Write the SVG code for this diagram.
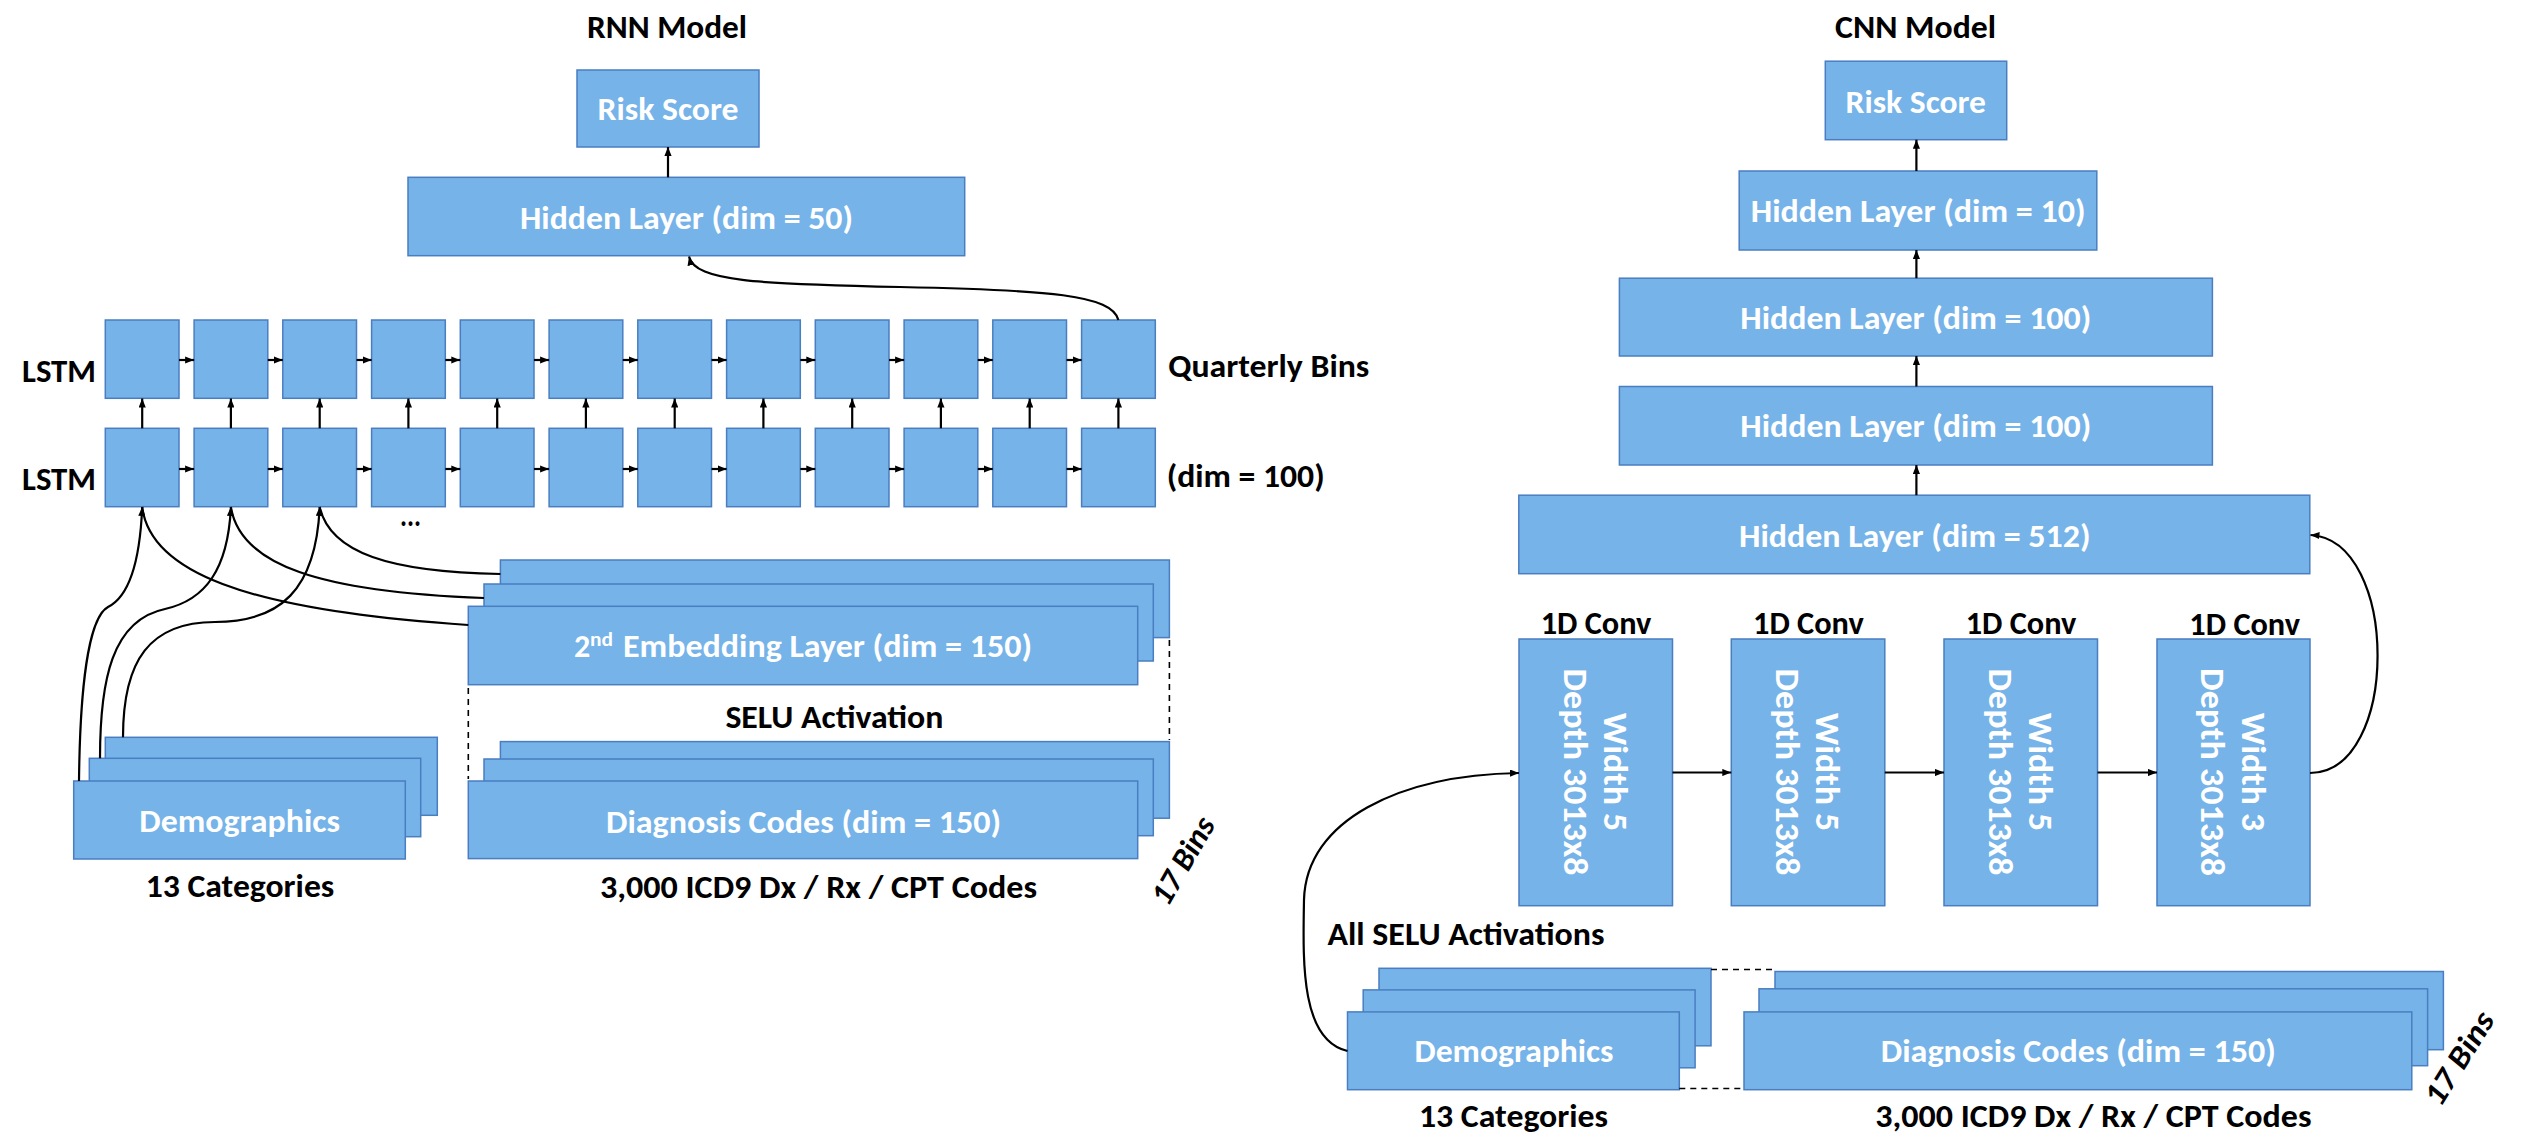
<svg xmlns="http://www.w3.org/2000/svg" xmlns:xlink="http://www.w3.org/1999/xlink" width="2539" height="1135" viewBox="0 0 2539 1135">
  <style>
    .box { fill: #75B3E9; stroke: #4A7EC1; stroke-width: 1.5; }
    .t { font-family: Carlito, Lato, "Open Sans", sans-serif; font-weight: bold; font-size: 32px; fill: #000; }
    .w { fill: #fff; }
    .rot { font-size: 34px; }
    .ln { fill: none; stroke: #000; stroke-width: 2.2; }
    .ar { fill: none; stroke: #000; stroke-width: 2.2; marker-end: url(#ah); }
    .dash { fill: none; stroke: #000; stroke-width: 1.6; stroke-dasharray: 6 5; }
  </style>
  <defs>
    <marker id="ah" viewBox="0 0 10 8" refX="10" refY="4" markerWidth="9" markerHeight="7.2" markerUnits="userSpaceOnUse" orient="auto">
      <path d="M0,0 L10,4 L0,8 z" fill="#000"/>
    </marker>
    <rect id="cellTop" class="box" width="73.7" height="78.3"/>
    <rect id="cellBot" class="box" width="73.7" height="78.4"/>
  </defs>
  <rect width="2539" height="1135" fill="#fff"/>

  <!-- ================= RNN model ================= -->
  <text class="t" x="667" y="37.5" text-anchor="middle" textLength="160" lengthAdjust="spacingAndGlyphs">RNN Model</text>

  <g id="rnn-risk">
    <rect class="box" x="577" y="70" width="182" height="77"/>
    <text class="t w" x="668" y="119.6" text-anchor="middle" textLength="141" lengthAdjust="spacingAndGlyphs">Risk Score</text>
  </g>
  <g id="rnn-hidden50">
    <rect class="box" x="408" y="177.3" width="556.7" height="78.4"/>
    <text class="t w" x="686.5" y="228.6" text-anchor="middle" textLength="333" lengthAdjust="spacingAndGlyphs">Hidden Layer (dim = 50)</text>
  </g>

  <!-- upper LSTM layer -->
  <g id="lstm-top">
    <use xlink:href="#cellTop" x="105.3" y="320"/>
    <use xlink:href="#cellTop" x="194.1" y="320"/>
    <use xlink:href="#cellTop" x="282.8" y="320"/>
    <use xlink:href="#cellTop" x="371.6" y="320"/>
    <use xlink:href="#cellTop" x="460.3" y="320"/>
    <use xlink:href="#cellTop" x="549.1" y="320"/>
    <use xlink:href="#cellTop" x="637.8" y="320"/>
    <use xlink:href="#cellTop" x="726.6" y="320"/>
    <use xlink:href="#cellTop" x="815.3" y="320"/>
    <use xlink:href="#cellTop" x="904.1" y="320"/>
    <use xlink:href="#cellTop" x="992.8" y="320"/>
    <use xlink:href="#cellTop" x="1081.6" y="320"/>
  </g>
  <!-- lower LSTM layer -->
  <g id="lstm-bottom">
    <use xlink:href="#cellBot" x="105.3" y="428.3"/>
    <use xlink:href="#cellBot" x="194.1" y="428.3"/>
    <use xlink:href="#cellBot" x="282.8" y="428.3"/>
    <use xlink:href="#cellBot" x="371.6" y="428.3"/>
    <use xlink:href="#cellBot" x="460.3" y="428.3"/>
    <use xlink:href="#cellBot" x="549.1" y="428.3"/>
    <use xlink:href="#cellBot" x="637.8" y="428.3"/>
    <use xlink:href="#cellBot" x="726.6" y="428.3"/>
    <use xlink:href="#cellBot" x="815.3" y="428.3"/>
    <use xlink:href="#cellBot" x="904.1" y="428.3"/>
    <use xlink:href="#cellBot" x="992.8" y="428.3"/>
    <use xlink:href="#cellBot" x="1081.6" y="428.3"/>
  </g>

  <g id="rnn-labels">
    <text class="t" x="22" y="382" textLength="74" lengthAdjust="spacingAndGlyphs">LSTM</text>
    <text class="t" x="22" y="490" textLength="74" lengthAdjust="spacingAndGlyphs">LSTM</text>
    <text class="t" x="1168.3" y="376.7" textLength="201" lengthAdjust="spacingAndGlyphs">Quarterly Bins</text>
    <text class="t" x="1166.7" y="486.7" textLength="158" lengthAdjust="spacingAndGlyphs">(dim = 100)</text>
    <text class="t" x="400" y="526" font-weight="900" textLength="21" lengthAdjust="spacingAndGlyphs">...</text>
  </g>

  <!-- second embedding layer, stacked over the 17 bins -->
  <g id="rnn-embedding">
    <rect class="box" x="500.4" y="560" width="669" height="77.6"/>
    <rect class="box" x="484" y="584" width="669.3" height="77"/>
    <rect class="box" x="468.3" y="606.3" width="669.4" height="78.4"/>
    <text class="t w" x="574" y="657.3">2<tspan x="590" y="646" font-size="20" textLength="23" lengthAdjust="spacingAndGlyphs">nd</tspan><tspan x="623" y="657.3" textLength="409" lengthAdjust="spacingAndGlyphs">Embedding Layer (dim = 150)</tspan></text>
  </g>
  <text class="t" x="725.4" y="727.8" textLength="218" lengthAdjust="spacingAndGlyphs">SELU Activation</text>

  <g id="rnn-diagnosis">
    <rect class="box" x="500.4" y="741.6" width="669" height="76.6"/>
    <rect class="box" x="484" y="759" width="669.3" height="76.7"/>
    <rect class="box" x="468.3" y="781" width="669.4" height="77.6"/>
    <text class="t w" x="606" y="832.5" textLength="395" lengthAdjust="spacingAndGlyphs">Diagnosis Codes (dim = 150)</text>
  </g>
  <text class="t" x="600" y="898.4" textLength="437" lengthAdjust="spacingAndGlyphs">3,000 ICD9 Dx / Rx / CPT Codes</text>

  <g id="rnn-demographics">
    <rect class="box" x="105.3" y="737.3" width="332" height="78"/>
    <rect class="box" x="89.3" y="758.3" width="331.4" height="78.4"/>
    <rect class="box" x="73.7" y="781" width="331.6" height="78"/>
    <text class="t w" x="139.3" y="831.7" textLength="200.7" lengthAdjust="spacingAndGlyphs">Demographics</text>
  </g>
  <text class="t" x="145.7" y="897.3" textLength="188.6" lengthAdjust="spacingAndGlyphs">13 Categories</text>

  <text class="t" transform="translate(1192,866) rotate(-60)" text-anchor="middle" font-style="italic" font-size="33" textLength="96" lengthAdjust="spacingAndGlyphs">17 Bins</text>

  <!-- RNN connectors -->
  <g id="rnn-connectors">
    <path class="ar" d="M668,177.3 L668,147"/>
    <!-- recurrent links, upper layer -->
    <path class="ar" d="M179,360 L194.1,360"/>
    <path class="ar" d="M267.8,360 L282.8,360"/>
    <path class="ar" d="M356.5,360 L371.6,360"/>
    <path class="ar" d="M445.3,360 L460.3,360"/>
    <path class="ar" d="M534,360 L549.1,360"/>
    <path class="ar" d="M622.8,360 L637.8,360"/>
    <path class="ar" d="M711.5,360 L726.6,360"/>
    <path class="ar" d="M800.3,360 L815.3,360"/>
    <path class="ar" d="M889,360 L904.1,360"/>
    <path class="ar" d="M977.8,360 L992.8,360"/>
    <path class="ar" d="M1066.5,360 L1081.6,360"/>
    <!-- recurrent links, lower layer -->
    <path class="ar" d="M179,469 L194.1,469"/>
    <path class="ar" d="M267.8,469 L282.8,469"/>
    <path class="ar" d="M356.5,469 L371.6,469"/>
    <path class="ar" d="M445.3,469 L460.3,469"/>
    <path class="ar" d="M534,469 L549.1,469"/>
    <path class="ar" d="M622.8,469 L637.8,469"/>
    <path class="ar" d="M711.5,469 L726.6,469"/>
    <path class="ar" d="M800.3,469 L815.3,469"/>
    <path class="ar" d="M889,469 L904.1,469"/>
    <path class="ar" d="M977.8,469 L992.8,469"/>
    <path class="ar" d="M1066.5,469 L1081.6,469"/>
    <!-- lower to upper layer -->
    <path class="ar" d="M142.2,428.3 L142.2,398.5"/>
    <path class="ar" d="M230.9,428.3 L230.9,398.5"/>
    <path class="ar" d="M319.7,428.3 L319.7,398.5"/>
    <path class="ar" d="M408.4,428.3 L408.4,398.5"/>
    <path class="ar" d="M497.2,428.3 L497.2,398.5"/>
    <path class="ar" d="M585.9,428.3 L585.9,398.5"/>
    <path class="ar" d="M674.7,428.3 L674.7,398.5"/>
    <path class="ar" d="M763.4,428.3 L763.4,398.5"/>
    <path class="ar" d="M852.2,428.3 L852.2,398.5"/>
    <path class="ar" d="M940.9,428.3 L940.9,398.5"/>
    <path class="ar" d="M1029.7,428.3 L1029.7,398.5"/>
    <path class="ar" d="M1118.4,428.3 L1118.4,398.5"/>
    <!-- last upper cell to hidden layer -->
    <path class="ar" d="M1118.4,320 C1112,295 1050,290 900,287 C760,284 695,282 689,256.5"/>
    <!-- embedding bins to the first lower cells -->
    <path class="ln" d="M468.3,625 C240,610 150,570 142.2,507"/>
    <path class="ln" d="M484,598 C320,592 240,565 230.9,507"/>
    <path class="ln" d="M500.4,574 C390,572 330,553 319.7,507"/>
    <!-- demographics bins to the first lower cells -->
    <path class="ar" d="M79,781 C80,690 88,618 108,607 C130,596 140,560 142.2,507"/>
    <path class="ar" d="M100,758.3 C100,680 112,620 165,609 C205,600 228,570 230.9,507"/>
    <path class="ar" d="M123,737.3 C123,660 150,622 215,622 C280,622 316,590 319.7,507"/>
    <!-- activation guides -->
    <path class="dash" d="M468.3,688 L468.3,779"/>
    <path class="dash" d="M1169.4,640 L1169.4,740"/>
  </g>

  <!-- ================= CNN model ================= -->
  <text class="t" x="1915.6" y="38.3" text-anchor="middle" textLength="161" lengthAdjust="spacingAndGlyphs">CNN Model</text>

  <g id="cnn-risk">
    <rect class="box" x="1825.3" y="61.2" width="181.4" height="78.5"/>
    <text class="t w" x="1915.8" y="112.5" text-anchor="middle" textLength="140.4" lengthAdjust="spacingAndGlyphs">Risk Score</text>
  </g>
  <g id="cnn-hidden10">
    <rect class="box" x="1739.2" y="171" width="357.6" height="79"/>
    <text class="t w" x="1918.1" y="222" text-anchor="middle" textLength="334.8" lengthAdjust="spacingAndGlyphs">Hidden Layer (dim = 10)</text>
  </g>
  <g id="cnn-hidden100a">
    <rect class="box" x="1619.4" y="278.2" width="593" height="77.8"/>
    <text class="t w" x="1915.8" y="329" text-anchor="middle" textLength="351" lengthAdjust="spacingAndGlyphs">Hidden Layer (dim = 100)</text>
  </g>
  <g id="cnn-hidden100b">
    <rect class="box" x="1619.4" y="386.5" width="593" height="78.5"/>
    <text class="t w" x="1915.8" y="437.4" text-anchor="middle" textLength="351" lengthAdjust="spacingAndGlyphs">Hidden Layer (dim = 100)</text>
  </g>
  <g id="cnn-hidden512">
    <rect class="box" x="1518.8" y="495.2" width="791" height="78.5"/>
    <text class="t w" x="1914.8" y="547" text-anchor="middle" textLength="351.5" lengthAdjust="spacingAndGlyphs">Hidden Layer (dim = 512)</text>
  </g>

  <g id="conv1">
    <text class="t" x="1596" y="634" text-anchor="middle" textLength="110.7" lengthAdjust="spacingAndGlyphs">1D Conv</text>
    <rect class="box" x="1519" y="639" width="153.5" height="266.7"/>
    <text class="t w rot" transform="translate(1603.6,772) rotate(90)" text-anchor="middle" textLength="118.5" lengthAdjust="spacingAndGlyphs">Width 5</text>
    <text class="t w rot" transform="translate(1563.5,772) rotate(90)" text-anchor="middle" textLength="207" lengthAdjust="spacingAndGlyphs">Depth 3013x8</text>
  </g>
  <g id="conv2">
    <text class="t" x="1808.4" y="634" text-anchor="middle" textLength="110.7" lengthAdjust="spacingAndGlyphs">1D Conv</text>
    <rect class="box" x="1731.3" y="639" width="153.5" height="266.7"/>
    <text class="t w rot" transform="translate(1815.9,772) rotate(90)" text-anchor="middle" textLength="118.5" lengthAdjust="spacingAndGlyphs">Width 5</text>
    <text class="t w rot" transform="translate(1775.8,772) rotate(90)" text-anchor="middle" textLength="207" lengthAdjust="spacingAndGlyphs">Depth 3013x8</text>
  </g>
  <g id="conv3">
    <text class="t" x="2021" y="634" text-anchor="middle" textLength="110.7" lengthAdjust="spacingAndGlyphs">1D Conv</text>
    <rect class="box" x="1944" y="639" width="153.5" height="266.7"/>
    <text class="t w rot" transform="translate(2028.6,772) rotate(90)" text-anchor="middle" textLength="118.5" lengthAdjust="spacingAndGlyphs">Width 5</text>
    <text class="t w rot" transform="translate(1988.5,772) rotate(90)" text-anchor="middle" textLength="207" lengthAdjust="spacingAndGlyphs">Depth 3013x8</text>
  </g>
  <g id="conv4">
    <text class="t" x="2244.7" y="635" text-anchor="middle" textLength="110.7" lengthAdjust="spacingAndGlyphs">1D Conv</text>
    <rect class="box" x="2157" y="639" width="153" height="266.7"/>
    <text class="t w rot" transform="translate(2241.7,772) rotate(90)" text-anchor="middle" textLength="118.4" lengthAdjust="spacingAndGlyphs">Width 3</text>
    <text class="t w rot" transform="translate(2201,772) rotate(90)" text-anchor="middle" textLength="208" lengthAdjust="spacingAndGlyphs">Depth 3013x8</text>
  </g>

  <text class="t" x="1327.5" y="944.8" textLength="277" lengthAdjust="spacingAndGlyphs">All SELU Activations</text>

  <g id="cnn-demographics">
    <rect class="box" x="1379" y="968.3" width="332" height="77.5"/>
    <rect class="box" x="1363.2" y="989.9" width="331.9" height="77.9"/>
    <rect class="box" x="1347.5" y="1011.9" width="331.8" height="77.8"/>
    <text class="t w" x="1414.5" y="1062" textLength="199" lengthAdjust="spacingAndGlyphs">Demographics</text>
  </g>
  <text class="t" x="1419" y="1127" textLength="189" lengthAdjust="spacingAndGlyphs">13 Categories</text>

  <g id="cnn-diagnosis">
    <rect class="box" x="1775" y="971.5" width="668.4" height="78.2"/>
    <rect class="box" x="1759" y="988.8" width="668.6" height="76.9"/>
    <rect class="box" x="1744" y="1011.9" width="667.8" height="77.8"/>
    <text class="t w" x="1880.8" y="1061.5" textLength="395" lengthAdjust="spacingAndGlyphs">Diagnosis Codes (dim = 150)</text>
  </g>
  <text class="t" x="1875.3" y="1127" textLength="436.2" lengthAdjust="spacingAndGlyphs">3,000 ICD9 Dx / Rx / CPT Codes</text>

  <text class="t" transform="translate(2468,1064) rotate(-58)" text-anchor="middle" font-style="italic" font-size="34" textLength="104" lengthAdjust="spacingAndGlyphs">17 Bins</text>

  <!-- CNN connectors -->
  <g id="cnn-connectors">
    <path class="ar" d="M1916.4,171 L1916.4,139.7"/>
    <path class="ar" d="M1916.4,278.2 L1916.4,250"/>
    <path class="ar" d="M1916.4,386.5 L1916.4,356"/>
    <path class="ar" d="M1916.4,495.2 L1916.4,465"/>
    <path class="ar" d="M1672.5,772.5 L1731.3,772.5"/>
    <path class="ar" d="M1884.8,772.5 L1944,772.5"/>
    <path class="ar" d="M2097.5,772.5 L2157,772.5"/>
    <path class="ar" d="M2310,773 C2400,773 2400,540 2310.5,535"/>
    <path class="ar" d="M1347.5,1051 C1300,1040 1303,960 1304,900 C1306,820 1400,775 1519,773"/>
    <path class="dash" d="M1711,969.5 L1775,969.5"/>
    <path class="dash" d="M1679.3,1088.5 L1744,1088.5"/>
  </g>
</svg>
